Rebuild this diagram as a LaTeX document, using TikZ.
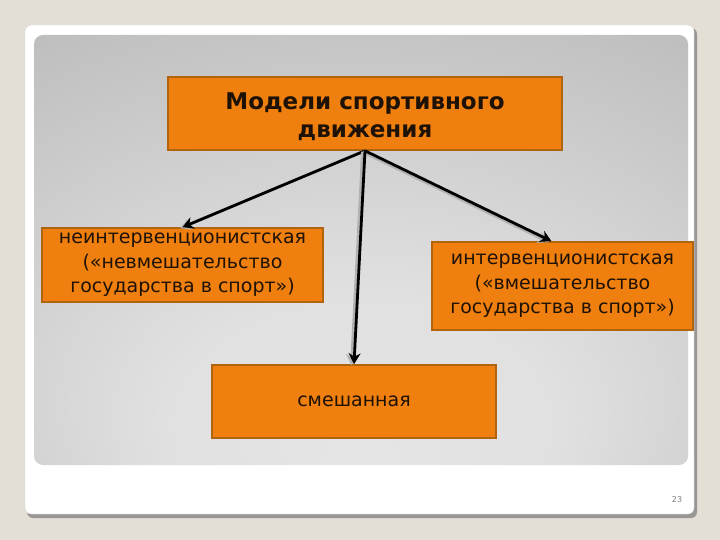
\documentclass[tikz,border=0pt]{standalone}
\usepackage{fontspec}
\setmainfont{DejaVu Sans}
\usetikzlibrary{arrows.meta}
\definecolor{bgbeige}{HTML}{E4DFD5}
\definecolor{boxfill}{HTML}{EF7F0E}
\definecolor{boxedge}{HTML}{B0640F}
\definecolor{boxtext}{HTML}{1E1206}
\pgfdeclareradialshading{panelshade}{\pgfpoint{0bp}{-25bp}}{%
  color(0bp)=(black!10); color(15bp)=(black!12); color(45bp)=(black!26); color(66bp)=(black!42); color(80bp)=(black!44)}
\tikzset{
  modelbox/.style={draw=boxedge, line width=1.6pt, fill=boxfill, text=boxtext, align=center, inner sep=2pt,
    font=\fontsize{19}{24.5}\selectfont},
  linkarrow/.style={line width=2.8pt, black, -{Stealth[length=11pt,width=12pt]},
    preaction={draw=gray!60, line width=2.8pt, transform canvas={xshift=-2.5pt,yshift=-1pt}}}
}
\begin{document}
\begin{tikzpicture}[x=1pt,y=-1pt]
\useasboundingbox (0,0) rectangle (720,540);
\fill[bgbeige] (0,0) rectangle (720,540);
% panel
\fill[gray!75!bgbeige, rounded corners=6pt] (27,28) rectangle (697,518);
\fill[white, draw=gray!35, rounded corners=6pt] (25,25) rectangle (694,514);
\shade[shading=panelshade, rounded corners=9pt] (34,35) rectangle (688,465);
% nodes
\node[modelbox, minimum width=394pt, minimum height=73pt] (top) at (365,113.5) {};
\node[text=boxtext, align=center, inner sep=0pt, font=\bfseries\fontsize{23}{28}\selectfont] (toptext) at (365,117) {Модели спортивного\\движения};
\node[modelbox, minimum width=281pt, minimum height=74pt] (left) at (182.5,265) {неинтервенционистская\\(«невмешательство\\государства в спорт»)};
\node[modelbox, minimum width=261pt, minimum height=88pt] (right) at (562.5,286) {интервенционистская\\(«вмешательство\\государства в спорт»)};
\node[modelbox, minimum width=284pt, minimum height=73pt] (mixed) at (354,401.5) {смешанная};
% arrows
\draw[linkarrow] (top.south) -- (left.north);
\draw[linkarrow] (top.south) -- ([xshift=-11pt]right.north);
\draw[linkarrow] (top.south) -- (mixed.north);
% page number
\node[text=gray, font=\fontsize{8}{9}\selectfont] (pnum) at (677,500) {23};
\end{tikzpicture}
\end{document}
